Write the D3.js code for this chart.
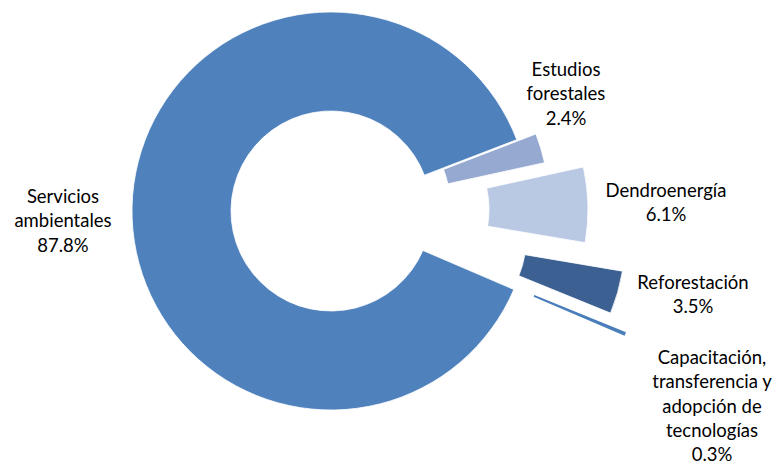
<!DOCTYPE html>
<html><head><meta charset="utf-8">
<script src="https://cdn.jsdelivr.net/npm/d3@7"></script>
<style>html,body{margin:0;padding:0;background:#fff;}svg{display:block;}</style>
</head><body>
<svg id="chart" width="777" height="466"></svg>
<script>
// ---- data ----
const categories = ["Estudios forestales", "Dendroenergía", "Reforestación", "Capacitación, transferencia y adopción de tecnologías", "Servicios ambientales"];
const values = [2.4, 6.1, 3.5, 0.3, 87.8];
const valueLabels = ["2.4%", "6.1%", "3.5%", "0.3%", "87.8%"];
const labelLines = [
  ["Estudios", "forestales"],
  ["Dendroenergía"],
  ["Reforestación"],
  ["Capacitación,", "transferencia y", "adopción de", "tecnologías"],
  ["Servicios", "ambientales"]
];

// ---- styles / layout ----
const colors = ["#95A9D1", "#B9C9E3", "#3C6091", "#4A7EBB", "#4F81BD"];
const explode = [20, 58, 99, 120, 0];
const labelPos = [[566, 69], [666, 190], [693, 282], [712, 357], [63, 196]];
const cx = 331, cy = 211, outerR = 199, innerR = 100;
const startDeg = 69;
const lineH = 24.3;

const svg = d3.select("#chart");
const pie = d3.pie().sort(null).value(d => d)
  .startAngle(startDeg * Math.PI / 180)
  .endAngle(startDeg * Math.PI / 180 + 2 * Math.PI);
const arcs = pie(values);
const arc = d3.arc().innerRadius(innerR).outerRadius(outerR);

const g = svg.append("g").attr("transform", `translate(${cx},${cy})`);
g.selectAll("path").data(arcs).join("path")
  .attr("d", arc)
  .attr("fill", (d, i) => colors[i])
  .attr("stroke", "#fff")
  .attr("stroke-width", (d, i) => i === 3 ? 0 : 0.8)
  .attr("transform", (d, i) => {
    const a = (d.startAngle + d.endAngle) / 2;
    return `translate(${explode[i] * Math.sin(a)},${-explode[i] * Math.cos(a)})`;
  });

const lab = svg.append("g")
  .attr("font-family", "Lato, 'Open Sans', sans-serif")
  .attr("font-size", 18.5)
  .attr("fill", "#000")
  .attr("text-anchor", "middle");
categories.forEach((c, i) => {
  const lines = labelLines[i].concat([valueLabels[i]]);
  const t = lab.append("text")
    .attr("x", labelPos[i][0]).attr("y", labelPos[i][1])
    .attr("dominant-baseline", "central");
  lines.forEach((l, j) => {
    t.append("tspan").attr("x", labelPos[i][0]).attr("y", labelPos[i][1] + j * lineH).text(l);
  });
});
</script>
</body></html>
